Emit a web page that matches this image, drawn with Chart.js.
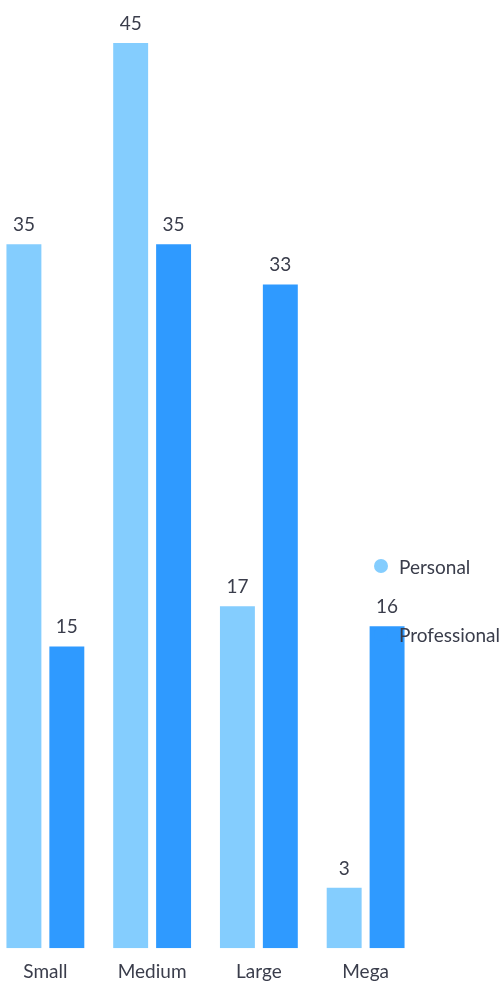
<!DOCTYPE html>
<html>
<head>
<meta charset="utf-8">
<script src="https://cdn.jsdelivr.net/npm/chart.js@4/dist/chart.umd.min.js"></script>
<style>
  html, body { margin:0; padding:0; background:#fff; }
  body { width:502px; height:983px; position:relative; overflow:hidden; font-family: Lato, sans-serif; }
  #wrap { position:absolute; left:-8px; top:0; width:427px; height:987px; }
  #legend { position:absolute; left:374px; top:554px; }
  .item { display:flex; align-items:center; height:24px; margin-bottom:44px; font-size:19px; color:#3a3d4b; }
  .dot { width:14px; height:14px; border-radius:50%; margin-right:11px; }
</style>
</head>
<body>
<div id="wrap"><canvas id="chart"></canvas></div>
<div id="legend"></div>
<script>
const categories = ['Small', 'Medium', 'Large', 'Mega'];
const personal = [35, 45, 17, 3];
const professional = [15, 35, 33, 16];
const seriesNames = ['Personal', 'Professional'];
const colors = ['#84cdfe', '#2f9aff'];
const textColor = '#3a3d4b';

// value labels above each bar
const valueLabels = {
  id: 'valueLabels',
  afterDatasetsDraw(chart) {
    const ctx = chart.ctx;
    ctx.save();
    ctx.font = '19px Lato, sans-serif';
    ctx.fillStyle = textColor;
    ctx.textAlign = 'center';
    ctx.textBaseline = 'alphabetic';
    chart.data.datasets.forEach((ds, i) => {
      chart.getDatasetMeta(i).data.forEach((bar, j) => {
        ctx.fillText(ds.data[j], bar.x, bar.y - 13);
      });
    });
    ctx.restore();
  }
};

const chart = new Chart(document.getElementById('chart'), {
  type: 'bar',
  data: {
    labels: categories,
    datasets: [
      { label: seriesNames[0], data: personal, backgroundColor: colors[0] },
      { label: seriesNames[1], data: professional, backgroundColor: colors[1] }
    ]
  },
  options: {
    responsive: true,
    maintainAspectRatio: false,
    animation: false,
    categoryPercentage: 0.804,
    barPercentage: 0.814,
    layout: { padding: { top: 43, left: 0, right: 0, bottom: 0 } },
    plugins: { legend: { display: false }, tooltip: { enabled: false } },
    scales: {
      x: {
        grid: { display: false },
        border: { display: false },
        ticks: { color: textColor, padding: 4, font: { family: 'Lato', size: 19 } }
      },
      y: { display: false, min: 0, max: 45 }
    }
  },
  plugins: [valueLabels]
});

// legend built from the datasets
const legendEl = document.getElementById('legend');
chart.data.datasets.forEach(ds => {
  const row = document.createElement('div'); row.className = 'item';
  const dot = document.createElement('span'); dot.className = 'dot';
  dot.style.background = ds.backgroundColor;
  const txt = document.createElement('span'); txt.textContent = ds.label;
  row.appendChild(dot); row.appendChild(txt); legendEl.appendChild(row);
});
</script>
</body>
</html>
